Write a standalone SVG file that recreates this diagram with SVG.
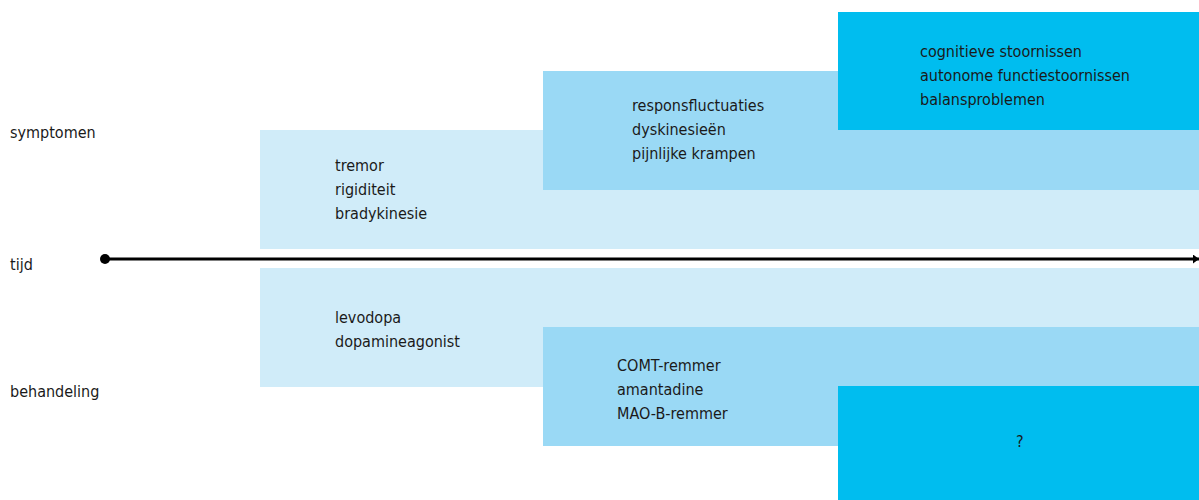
<svg xmlns="http://www.w3.org/2000/svg" width="1199" height="500" viewBox="0 0 1199 500">
<style>
text{font-family:"Liberation Sans Narrow","DejaVu Sans Condensed",sans-serif;font-size:16px;fill:#1a1a1a}
.l1{fill:#d0ecf9}.l2{fill:#9ad9f5}.l3{fill:#00bdef}
</style>
<defs>
<marker id="ah" markerWidth="2" markerHeight="3" refX="2" refY="1.5" orient="auto" markerUnits="strokeWidth"><path d="M0,0L2,1.5L0,3z" fill="#000"/></marker>
</defs>
<rect width="1199" height="500" fill="#fff"/>
<g id="sym1"><rect class="l1" x="260" y="130" width="939" height="119"/><text x="335" y="171">tremor</text><text x="335" y="195">rigiditeit</text><text x="335" y="219">bradykinesie</text></g>
<g id="sym2"><rect class="l2" x="543" y="71" width="656" height="119"/><text x="632" y="111">responsfluctuaties</text><text x="632" y="135">dyskinesieën</text><text x="632" y="159">pijnlijke krampen</text></g>
<g id="sym3"><rect class="l3" x="838" y="12" width="361" height="118"/><text x="920" y="57">cognitieve stoornissen</text><text x="920" y="81">autonome functiestoornissen</text><text x="920" y="105">balansproblemen</text></g>
<g id="beh1"><rect class="l1" x="260" y="268" width="939" height="119"/><text x="335" y="323">levodopa</text><text x="335" y="347">dopamineagonist</text></g>
<g id="beh2"><rect class="l2" x="543" y="327" width="656" height="119"/><text x="617" y="371">COMT-remmer</text><text x="617" y="395">amantadine</text><text x="617" y="419">MAO-B-remmer</text></g>
<g id="beh3"><rect class="l3" x="838" y="386" width="361" height="114"/><text x="1016" y="447">?</text></g>
<g id="labels"><text x="10" y="138">symptomen</text><text x="10" y="270">tijd</text><text x="10" y="397">behandeling</text></g>
<g id="connectors"><circle cx="105" cy="259" r="5" fill="#000"/><line x1="105" y1="259" x2="1199" y2="259" stroke="#000" stroke-width="3" marker-end="url(#ah)"/></g>
</svg>
